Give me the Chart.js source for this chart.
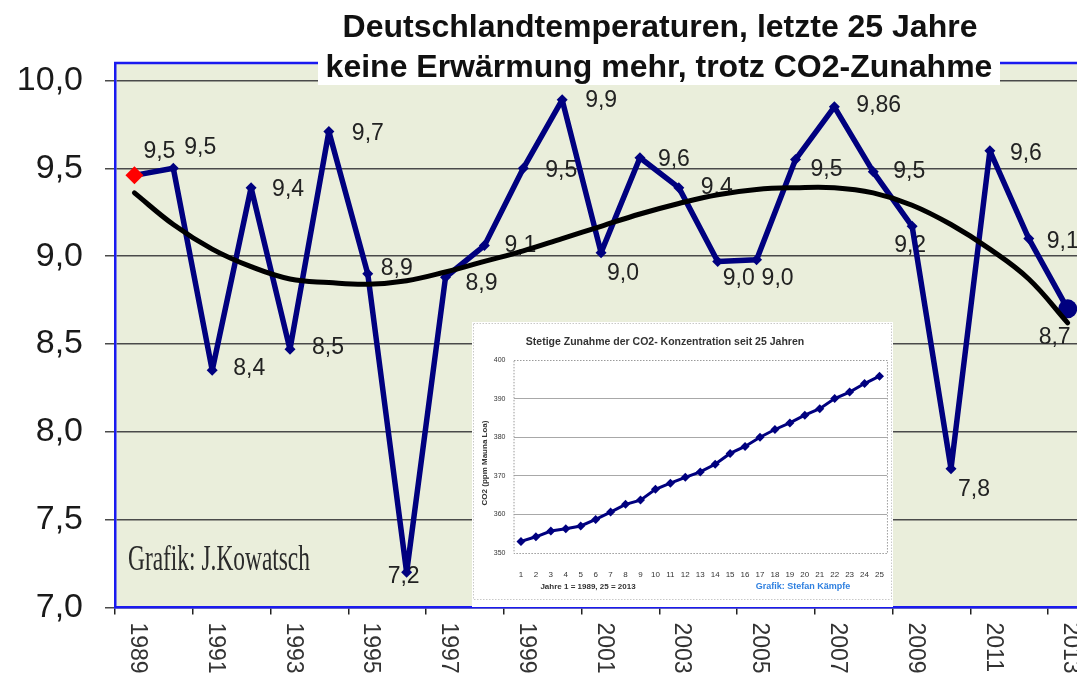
<!DOCTYPE html>
<html><head><meta charset="utf-8">
<script src="https://cdn.jsdelivr.net/npm/chart.js@4.4.1/dist/chart.umd.min.js"></script>
<style>
html,body{margin:0;padding:0;background:#fff;overflow:hidden;width:1077px;height:675px;}
#wrap{position:absolute;left:0;top:0;width:1077px;height:675px;}
#main{display:block;}
#insetWrap{position:absolute;left:472px;top:322px;width:421px;height:285px;background:#fff;}
#inset{display:block;}
</style></head><body>
<div id="wrap"><canvas id="main" width="1077" height="675" style="width:1077px;height:675px"></canvas></div>
<div id="insetWrap"><canvas id="inset" width="421" height="285" style="width:421px;height:285px"></canvas></div>
<script>
// ---------- data ----------
const years = ['1989','1990','1991','1992','1993','1994','1995','1996','1997','1998','1999','2000',
  '2001','2002','2003','2004','2005','2006','2007','2008','2009','2010','2011','2012','2013'];
const temperatures = [9.46, 9.50, 8.35, 9.39, 8.47, 9.71, 8.90, 7.20, 8.88, 9.06, 9.50, 9.89,
  9.02, 9.56, 9.39, 8.97, 8.98, 9.55, 9.85, 9.48, 9.17, 7.79, 9.60, 9.10, 8.70];
const valueLabels = ['9,5','9,5','8,4','9,4','8,5','9,7','8,9','7,2','8,9','9,1','9,5','9,9',
  '9,0','9,6','9,4','9,0','9,0','9,5','9,86','9,5','9,2','7,8','9,6','9,1','8,7'];
const trend = [9.36, 9.18, 9.04, 8.94, 8.87, 8.85, 8.84, 8.86, 8.91, 8.97, 9.03, 9.10,
  9.17, 9.24, 9.30, 9.35, 9.38, 9.39, 9.39, 9.36, 9.29, 9.18, 9.04, 8.87, 8.62];
const yTickValues = [7.0, 7.5, 8.0, 8.5, 9.0, 9.5, 10.0];
const yTickLabels = ['7,0', '7,5', '8,0', '8,5', '9,0', '9,5', '10,0'];
const titleLines = ['Deutschlandtemperaturen, letzte 25 Jahre', 'keine Erwärmung mehr, trotz CO2-Zunahme'];
const creditMain = 'Grafik: J.Kowatsch';

const co2Years = ['1','2','3','4','5','6','7','8','9','10','11','12','13','14','15','16','17','18','19','20','21','22','23','24','25'];
const co2 = [353.0, 354.2, 355.7, 356.3, 357.0, 358.7, 360.6, 362.6, 363.7, 366.5, 368.1, 369.6,
  371.0, 373.0, 375.8, 377.6, 380.0, 382.0, 383.7, 385.7, 387.4, 390.0, 391.7, 393.9, 395.8];
const co2TickValues = [350, 360, 370, 380, 390, 400];
const insetTitle = 'Stetige Zunahme der CO2- Konzentration seit 25 Jahren';
const insetYTitle = 'CO2 (ppm Mauna Loa)';
const insetNote = 'Jahre 1 = 1989, 25 = 2013';
const insetCredit = 'Grafik: Stefan Kämpfe';

// label placement relative to each point (style, not data)
const labelOffsets = [[9,-24],[11,-21],[21,-2],[21,2],[22,-2],[23,2],[13,-5],[-19,4],[20,6],[20,0],[22,2],[23,1],
  [6,21],[18,2],[22,0],[5,17],[5,19],[15,10],[22,-1],[20,0],[-18,19],[7,21],[20,3],[18,3],[-29,29]];

const SANS = '"Liberation Sans", Arial, Helvetica, sans-serif';
const NAVY = '#00007f';
const BLUE = '#1a1af0';

// x positions are category indices; the plot is cropped on the right like the original
const toPoints = arr => arr.map((v, i) => ({x: i, y: v}));
const xTickMarks = years.map((y, i) => i - 0.5).filter((v, i) => i % 2 === 0);

const mainDecor = {
  id: 'mainDecor',
  beforeDraw(chart) {
    const {ctx, chartArea: a} = chart;
    ctx.save();
    ctx.fillStyle = '#eaeedb';
    ctx.fillRect(a.left, a.top, a.right - a.left, a.bottom - a.top);
    ctx.restore();
  },
  beforeDatasetsDraw(chart) {
    const {ctx} = chart;
    const meta = chart.getDatasetMeta(1);
    ctx.save();
    ctx.font = '23px ' + SANS;
    ctx.fillStyle = '#222';
    ctx.textAlign = 'left';
    ctx.textBaseline = 'middle';
    meta.data.forEach((pt, i) => {
      const off = labelOffsets[i];
      ctx.fillText(valueLabels[i], pt.x + off[0], pt.y + off[1]);
    });
    ctx.restore();
  },
  afterDraw(chart) {
    const {ctx, chartArea: a, scales} = chart;
    ctx.save();
    // top frame line
    ctx.strokeStyle = BLUE;
    ctx.lineWidth = 2.5;
    ctx.beginPath();
    ctx.moveTo(a.left - 1, a.top);
    ctx.lineTo(a.right, a.top);
    ctx.stroke();
    // rotated year labels (every 2nd)
    ctx.font = '23px ' + SANS;
    ctx.fillStyle = '#333';
    ctx.textAlign = 'left';
    ctx.textBaseline = 'middle';
    years.forEach((y, i) => {
      if (i % 2 !== 0) return;
      const x = scales.x.getPixelForValue(i);
      ctx.save();
      ctx.translate(x + 3, a.bottom + 15);
      ctx.rotate(Math.PI / 2);
      ctx.fillText(y, 0, 0);
      ctx.restore();
    });
    // credit
    ctx.save();
    ctx.font = '36px "Liberation Serif", "Times New Roman", serif';
    ctx.fillStyle = '#2a2a2a';
    ctx.textAlign = 'left';
    ctx.textBaseline = 'alphabetic';
    ctx.translate(128, 570);
    ctx.scale(0.65, 1);
    ctx.fillText(creditMain, 0, 0);
    ctx.restore();
    // title
    ctx.fillStyle = '#fff';
    ctx.fillRect(318, 47, 682, 38);
    ctx.fillStyle = '#111';
    ctx.textAlign = 'center';
    ctx.textBaseline = 'alphabetic';
    ctx.font = 'bold 32px ' + SANS;
    ctx.fillText(titleLines[0], 660, 37);
    ctx.fillText(titleLines[1], 659, 77);
    ctx.restore();
  }
};

new Chart(document.getElementById('main'), {
  type: 'line',
  data: {
    datasets: [
      {
        label: 'Trend',
        data: toPoints(trend),
        borderColor: '#000',
        borderWidth: 5,
        pointRadius: 0,
        tension: 0.4,
        borderCapStyle: 'round',
        fill: false
      },
      {
        label: 'Temperatur',
        data: toPoints(temperatures),
        borderColor: NAVY,
        borderWidth: 5.5,
        borderJoinStyle: 'round',
        tension: 0,
        fill: false,
        pointStyle: c => (c.dataIndex === temperatures.length - 1 ? 'circle' : 'rectRot'),
        pointRadius: c => (c.dataIndex === 0 ? 9 : (c.dataIndex === temperatures.length - 1 ? 9.5 : 5.5)),
        pointBackgroundColor: c => (c.dataIndex === 0 ? '#ff0000' : NAVY),
        pointBorderColor: c => (c.dataIndex === 0 ? '#ff0000' : NAVY),
        pointBorderWidth: 0
      }
    ]
  },
  options: {
    responsive: false,
    maintainAspectRatio: false,
    animation: false,
    devicePixelRatio: 1,
    layout: {autoPadding: false, padding: {left: 0, top: 63, right: 0, bottom: 0}},
    plugins: {legend: {display: false}, tooltip: {enabled: false}, title: {display: false}},
    scales: {
      x: {
        type: 'linear',
        min: -0.5,
        max: 24.24,
        afterBuildTicks: s => { s.ticks = xTickMarks.map(v => ({value: v})); },
        afterFit: s => { s.height = 67.5; },
        ticks: {display: false},
        grid: {
          drawOnChartArea: false,
          drawTicks: true,
          tickLength: 7,
          lineWidth: 1.5,
          color: '#222'
        },
        border: {color: BLUE, width: 2.5}
      },
      y: {
        min: 7,
        max: 10.0996,
        afterBuildTicks: s => { s.ticks = yTickValues.map(v => ({value: v})); },
        afterFit: s => { s.width = 115; },
        ticks: {
          callback: (v, i) => yTickLabels[i],
          font: {family: SANS, size: 34},
          color: '#1a1a1a',
          padding: 22
        },
        grid: {color: '#4a4a4a', lineWidth: 1.5, tickLength: 10, drawTicks: true},
        border: {color: BLUE, width: 2.5}
      }
    }
  },
  plugins: [mainDecor]
});

// ---------- inset chart ----------
const insetDecor = {
  id: 'insetDecor',
  beforeDraw(chart) {
    const {ctx, width, height} = chart;
    ctx.save();
    ctx.fillStyle = '#fff';
    ctx.fillRect(0, 0, width, height);
    ctx.restore();
  },
  afterDraw(chart) {
    const {ctx, chartArea: a, width} = chart;
    ctx.save();
    ctx.strokeStyle = '#9a9a9a';
    ctx.lineWidth = 1;
    ctx.setLineDash([1.5, 1.5]);
    ctx.strokeRect(a.left + 0.5, a.top + 0.5, a.right - a.left, a.bottom - a.top);
    ctx.strokeStyle = '#c8c8c8';
    ctx.strokeRect(1.5, 1.5, width - 3, 276);
    ctx.setLineDash([]);
    ctx.fillStyle = '#333';
    ctx.textAlign = 'center';
    ctx.textBaseline = 'middle';
    ctx.font = 'bold 10.5px ' + SANS;
    ctx.fillText(insetTitle, 193, 20);
    ctx.font = 'bold 8px ' + SANS;
    ctx.fillText(insetNote, 116, 265);
    ctx.fillStyle = '#2f80e0';
    ctx.font = 'bold 9px ' + SANS;
    ctx.fillText(insetCredit, 331, 265);
    ctx.fillStyle = '#333';
    ctx.font = 'bold 8px ' + SANS;
    ctx.translate(13, 141);
    ctx.rotate(-Math.PI / 2);
    ctx.fillText(insetYTitle, 0, 0);
    ctx.restore();
  }
};

new Chart(document.getElementById('inset'), {
  type: 'line',
  data: {
    labels: co2Years,
    datasets: [{
      data: co2,
      borderColor: NAVY,
      borderWidth: 3,
      tension: 0,
      pointStyle: 'rectRot',
      pointRadius: 4.5,
      pointBackgroundColor: NAVY,
      pointBorderColor: NAVY,
      pointBorderWidth: 0,
      fill: false
    }]
  },
  options: {
    responsive: false,
    maintainAspectRatio: false,
    animation: false,
    devicePixelRatio: 1,
    layout: {autoPadding: false, padding: {left: 0, top: 38, right: 3.5, bottom: 0}},
    plugins: {legend: {display: false}, tooltip: {enabled: false}},
    scales: {
      x: {
        type: 'category',
        offset: true,
        afterFit: s => { s.height = 54; },
        ticks: {autoSkip: false, maxRotation: 0, font: {family: SANS, size: 8}, color: '#333', padding: 9},
        grid: {display: false},
        border: {display: false}
      },
      y: {
        min: 350,
        max: 400,
        afterBuildTicks: s => { s.ticks = co2TickValues.map(v => ({value: v})); },
        afterFit: s => { s.width = 41.5; },
        ticks: {font: {family: SANS, size: 7}, color: '#333', padding: 8},
        grid: {
          drawTicks: false,
          lineWidth: 1,
          color: c => ((c.tick && (c.tick.value === 350 || c.tick.value === 400)) ? 'rgba(0,0,0,0)' : '#a8a8a8')
        },
        border: {display: false}
      }
    }
  },
  plugins: [insetDecor]
});
</script>
</body></html>
